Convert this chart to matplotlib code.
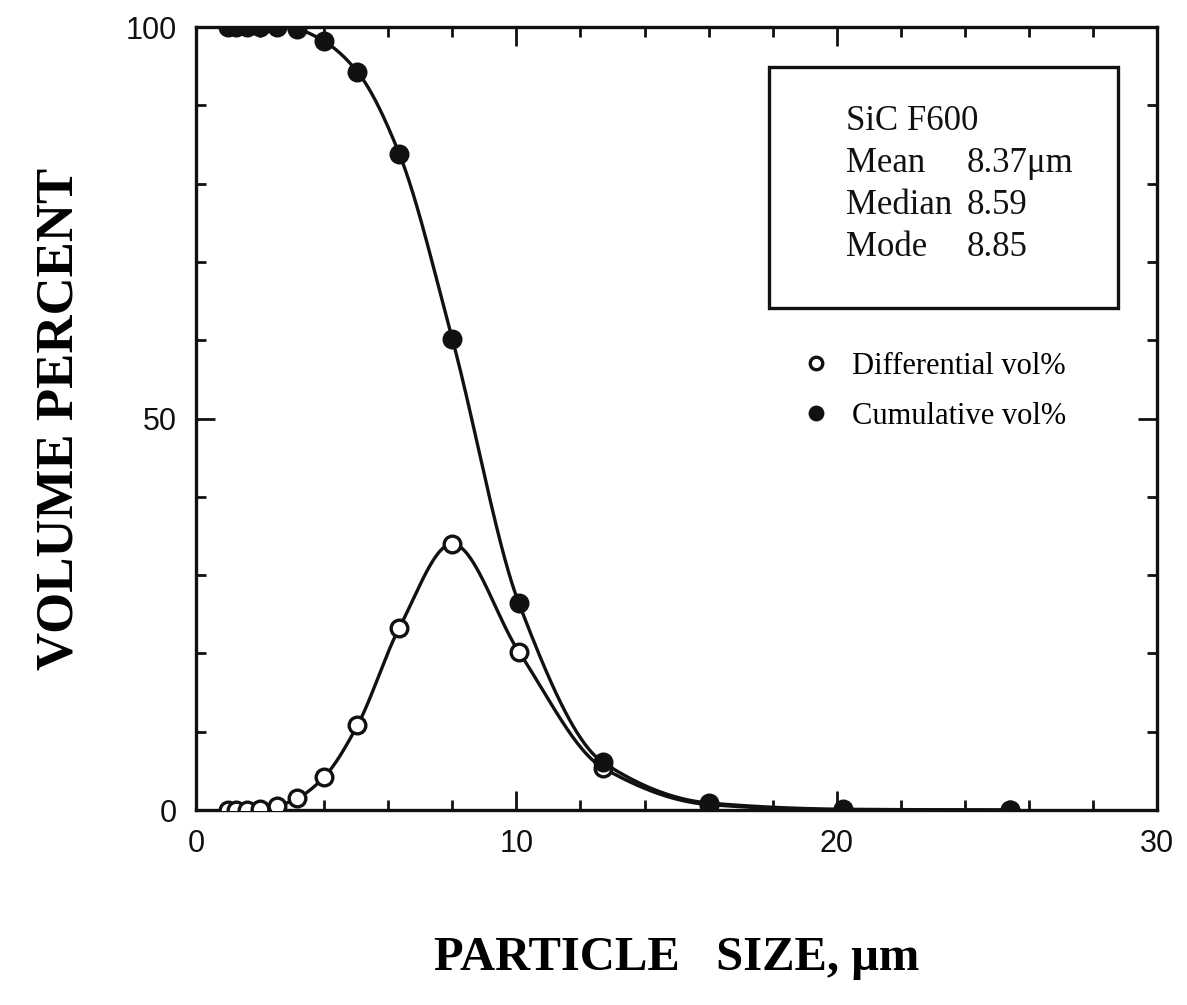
import numpy as np, matplotlib
matplotlib.use("Agg"); import matplotlib.pyplot as plt
from matplotlib.patches import Rectangle
from matplotlib.ticker import MultipleLocator

INK = "#111111"
SERIF = "Liberation Serif"
plt.rcParams.update({"font.family": ["Liberation Sans Narrow", "Liberation Sans"],
                     "axes.linewidth": 2.4, "xtick.direction": "in", "ytick.direction": "in"})

# particle size channels (um) and volume percentages
size = [1.0, 1.26, 1.59, 2.0, 2.52, 3.17, 4.0, 5.04, 6.35, 8.0, 10.08, 12.7, 16.0, 20.2, 25.4]
diff_vol = [0.0, 0.0, 0.0, 0.1, 0.5, 1.5, 4.2, 10.8, 23.3, 34.0, 20.2, 5.4, 0.7, 0.0, 0.0]
cum_vol = [100, 100, 100, 100, 100, 99.7, 98.2, 94.3, 83.8, 60.2, 26.4, 6.1, 0.9, 0.1, 0.0]
stats = [("SiC F600", ""), ("Mean", "8.37\u03bcm"), ("Median", "8.59"), ("Mode", "8.85")]

def pchip(x, y, xs):
    x = np.asarray(x, float); y = np.asarray(y, float)
    h = np.diff(x); d = np.diff(y) / h; n = len(x); m = np.zeros(n)
    for k in range(1, n - 1):
        if d[k-1] * d[k] > 0:
            w1 = 2*h[k] + h[k-1]; w2 = h[k] + 2*h[k-1]
            m[k] = (w1 + w2) / (w1/d[k-1] + w2/d[k])
    m[0] = d[0]; m[-1] = d[-1]
    i = np.clip(np.searchsorted(x, xs) - 1, 0, n - 2)
    t = (xs - x[i]) / h[i]
    h00 = 2*t**3 - 3*t**2 + 1; h10 = t**3 - 2*t**2 + t
    h01 = -2*t**3 + 3*t**2; h11 = t**3 - t**2
    return h00*y[i] + h10*h[i]*m[i] + h01*y[i+1] + h11*h[i]*m[i+1]

fig = plt.figure(figsize=(11.87, 10.05), dpi=100)
ax = fig.add_axes([0.165, 0.194, 0.81, 0.779])
xs = np.linspace(size[0], size[-1], 800)
ax.plot(xs, pchip(size, cum_vol, xs), color=INK, lw=2.4, zorder=2)
ax.plot(xs, pchip(size, diff_vol, xs), color=INK, lw=2.4, zorder=2)
hd, = ax.plot(size, diff_vol, "o", ms=12, mfc="white", mec=INK, mew=2.4, ls="none", zorder=3)
hc, = ax.plot(size, cum_vol, "o", ms=12, mfc=INK, mec=INK, mew=2.4, ls="none", zorder=4)

ax.set_xlim(0, 30); ax.set_ylim(0, 100)
ax.set_xticks([0, 10, 20, 30]); ax.set_yticks([0, 50, 100])
ax.xaxis.set_minor_locator(MultipleLocator(2)); ax.yaxis.set_minor_locator(MultipleLocator(10))
ax.tick_params(which="both", top=True, right=True, width=2, colors=INK, labelsize=22)
ax.tick_params(which="major", length=14, pad=14)
ax.tick_params(which="minor", length=7)
for s in ax.spines.values():
    s.set_color(INK); s.set_clip_on(False)

ax.set_xlabel("PARTICLE   SIZE, \u03bcm", family=SERIF, fontweight="bold",
              fontsize=35, labelpad=55)
ax.set_ylabel("VOLUME PERCENT", family=SERIF, fontweight="bold",
              fontsize=38, labelpad=30)

ax.add_patch(Rectangle((0.596, 0.641), 0.363, 0.308, transform=ax.transAxes,
                       fill=False, ec=INK, lw=2.4, zorder=5))
for j, (name, val) in enumerate(stats):
    yy = 0.879 - j * 0.0535
    ax.text(0.676, yy, name, transform=ax.transAxes, family=SERIF,
            fontsize=25, va="center", color=INK)
    if val:
        ax.text(0.802, yy, val, transform=ax.transAxes, family=SERIF,
                fontsize=25, va="center", color=INK)

leg = ax.legend([hd, hc], ["Differential vol%", "Cumulative vol%"], loc="upper left",
                bbox_to_anchor=(0.597, 0.62), frameon=False, handletextpad=0.6,
                handlelength=1.2, labelspacing=0.68, markerscale=0.75,
                prop={"family": SERIF, "size": 22})
fig.savefig("out.png", dpi=100)
